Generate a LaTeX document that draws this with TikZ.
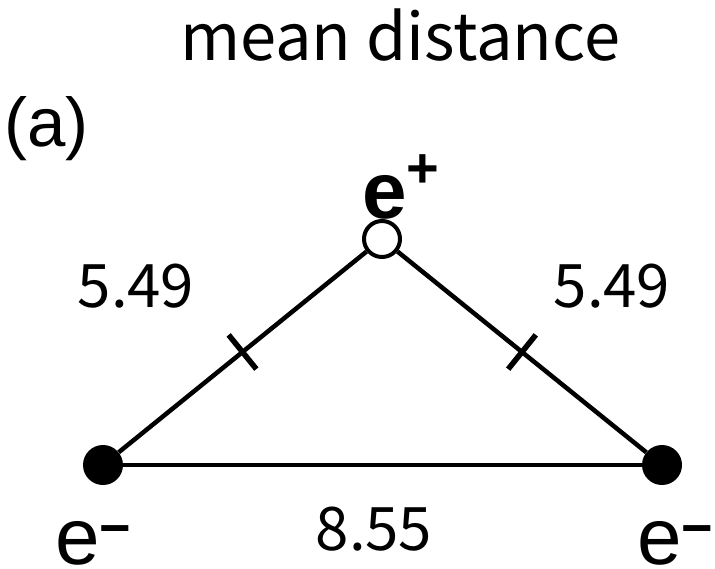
\documentclass[tikz,border=0pt]{standalone}
\usepackage{fontspec}
\setmainfont{Liberation Sans}
\newfontfamily\cjk{Noto Sans CJK JP}
\usetikzlibrary{calc}
\tikzset{
  elec/.style={circle, fill=black, inner sep=0pt, minimum size=40pt},
  posi/.style={circle, draw=black, fill=white, line width=4pt, inner sep=0pt, minimum size=36pt},
  bond/.style={line width=4.5pt},
  tickmark/.style={line width=5.5pt},
  numlbl/.style={font=\cjk\fontsize{60}{60}\selectfont, inner sep=0pt, anchor=base},
  plbl/.style={font=\fontsize{80}{80}\selectfont, inner sep=0pt, anchor=base west}
}
\begin{document}
\begin{tikzpicture}[x=1pt,y=-1pt]
\useasboundingbox (0,0) rectangle (715,568);
\node[font=\cjk\fontsize{65}{65}\selectfont, inner sep=0pt, anchor=base] (title) at (400,60) {mean distance};
\node[font=\fontsize{69}{69}\selectfont, inner sep=0pt, anchor=base west] (lab) at (4,146) {(a)};
\node[elec] (L) at (103,465) {};
\node[elec] (R) at (662,465) {};
\node[posi] (T) at (382,239) {};
\draw[bond] (L) -- (R);
\draw[bond] (L) -- (T);
\draw[bond] (T) -- (R);
\draw[tickmark] ($(L)!0.5!(T)!22pt!90:(T)$) coordinate (t1a) -- ($(L)!0.5!(T)!22pt!-90:(T)$) coordinate (t1b);
\draw[tickmark] ($(R)!0.5!(T)!22pt!90:(T)$) coordinate (t2a) -- ($(R)!0.5!(T)!22pt!-90:(T)$) coordinate (t2b);
\node[numlbl] (dl) at (136,307) {5.49};
\node[numlbl] (dr) at (612,307) {5.49};
\node[numlbl] (db) at (374,550) {8.55};
\node[plbl] (ep) at (362,218) {\textbf{e}\raisebox{31pt}{\fontsize{56}{56}\selectfont\bfseries +}};
\node[plbl] (el) at (55,564) {e\raisebox{18pt}{\fontsize{54}{54}\selectfont\bfseries −}};
\node[plbl] (er) at (637,564) {e\raisebox{18pt}{\fontsize{54}{54}\selectfont\bfseries −}};
\end{tikzpicture}
\end{document}
